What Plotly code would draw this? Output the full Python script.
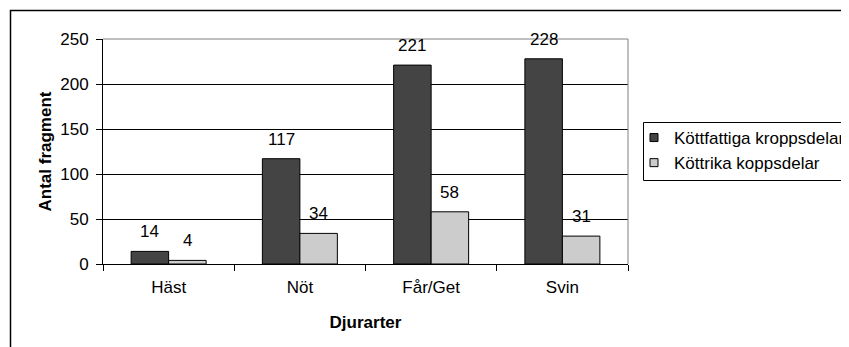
import plotly.graph_objects as go

categories = ["Häst", "Nöt", "Får/Get", "Svin"]
series_names = ["Köttfattiga kroppsdelar", "Köttrika koppsdelar"]
kottfattiga = [14, 117, 221, 228]
kottrika = [4, 34, 58, 31]
y_ticks = [0, 50, 100, 150, 200, 250]

# the page body has an 8px default margin; lay out in window pixels and offset
OFF = 8
W, H = 849 - OFF, 347 - OFF
L, R, T, B = 103 - OFF, 628 - OFF, 39 - OFF, 264 - OFF
pw, ph = R - L, B - T

FONT = "Liberation Sans, Arial, sans-serif"
FS = 17
dark = "#444444"
light = "#cccccc"
colors = [dark, light]

fig = go.Figure()
for name, vals, col in zip(series_names, (kottfattiga, kottrika), colors):
    fig.add_trace(go.Bar(name=name, x=categories, y=vals, showlegend=False,
                         marker=dict(color=col, line=dict(color="black", width=1))))
for name, col in zip(series_names, colors):
    fig.add_trace(go.Scatter(name=name, x=[None], y=[None], mode="markers",
                             marker=dict(symbol="square", size=8, color=col,
                                         line=dict(color="black", width=1))))

bw = pw / len(categories) / 3.5
annotations = []
for vals, shift in ((kottfattiga, -bw / 2), (kottrika, bw / 2)):
    for c, v in zip(categories, vals):
        annotations.append(dict(x=c, y=v, xref="x", yref="y", text=str(v),
                                showarrow=False, xshift=shift, yshift=8,
                                yanchor="bottom", font=dict(size=FS, color="black", family=FONT)))

def px_x(p):  # window pixel -> paper
    return (p - OFF - L) / pw

def px_y(p):
    return (B - (p - OFF)) / ph

shapes = [
    dict(type="line", xref="paper", yref="paper", x0=0, x1=1, y0=1, y1=1,
         line=dict(color="#808080", width=1), layer="above"),
    dict(type="line", xref="paper", yref="paper", x0=1, x1=1, y0=0, y1=1,
         line=dict(color="#808080", width=1), layer="above"),
    # outer chart border
    dict(type="rect", xref="paper", yref="paper", x0=px_x(10.5), x1=px_x(880),
         y0=px_y(380), y1=px_y(10.5), line=dict(color="black", width=1.5), layer="below"),
    # legend box
    dict(type="rect", xref="paper", yref="paper", x0=px_x(643.5), x1=px_x(880),
         y0=px_y(180.5), y1=px_y(122.5), line=dict(color="black", width=1),
         fillcolor="white", layer="below"),
]

fig.update_layout(
    width=W, height=H,
    margin=dict(l=L, r=W - R, t=T, b=H - B, pad=0, autoexpand=False),
    paper_bgcolor="white", plot_bgcolor="white",
    font=dict(family=FONT, size=FS, color="black"),
    barmode="group", bargap=1.5 / 3.5, bargroupgap=0,
    showlegend=True,
    legend=dict(x=px_x(634), xanchor="left", y=px_y(120), yanchor="top",
                borderwidth=0, bgcolor="rgba(0,0,0,0)",
                font=dict(size=FS, family=FONT), itemwidth=30),
    annotations=annotations,
    shapes=shapes,
    xaxis=dict(showline=True, linecolor="black", linewidth=1, automargin=False,
               ticks="outside", tickson="boundaries", ticklen=6, tickcolor="black",
               tickfont=dict(size=FS, family=FONT), ticklabelstandoff=8,
               title=dict(text="<b>Djurarter</b>", font=dict(size=FS, family=FONT), standoff=19)),
    yaxis=dict(range=[0, 250], tickvals=y_ticks, showline=True, linecolor="black", linewidth=1,
               automargin=False,
               ticks="outside", ticklen=6, tickcolor="black", ticklabelstandoff=4,
               showgrid=True, gridcolor="black", gridwidth=1, zeroline=False,
               tickfont=dict(size=FS, family=FONT),
               title=dict(text="<b>Antal fragment</b>", font=dict(size=FS, family=FONT), standoff=4)),
)

fig.write_html("out.html")
